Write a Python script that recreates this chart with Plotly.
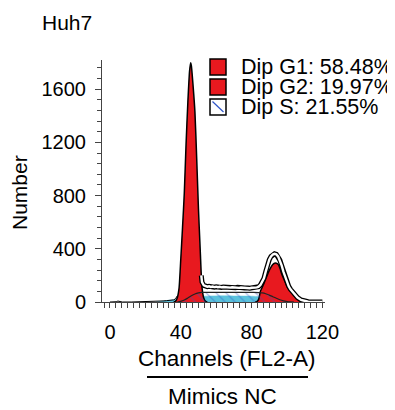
import plotly.graph_objects as go

# ---------------- data ----------------
# G1 peak (red)
g1_ch = [36, 37, 38, 39, 40, 41, 42, 43, 44, 45, 45.6, 46, 47, 48, 49, 50, 51, 52, 53, 54, 55]
g1_cnt = [0, 5, 30, 100, 320, 560, 820, 1190, 1500, 1740, 1800, 1775, 1620, 1430, 1080, 700, 390, 110, 30, 5, 0]

# G2 peak (red)
g2_ch = [82, 83, 84, 85, 86, 87, 88, 89, 90, 91, 92, 93, 94, 95, 96, 97, 98, 99, 100, 101, 102, 104, 106, 108, 110]
g2_cnt = [0, 3, 20, 80, 110, 140, 175, 205, 238, 262, 282, 291, 292, 283, 255, 213, 180, 148, 118, 96, 82, 50, 25, 8, 0]

# S phase (hatched)
s_ch = [38, 40, 42, 44, 46, 48, 50, 52, 56, 60, 70, 80, 84, 86, 88, 90, 92, 94, 96, 98, 100, 102, 104]
s_cnt = [0, 5, 15, 30, 47, 60, 68, 72, 73, 73, 72, 72, 71, 68, 62, 52, 40, 28, 17, 9, 4, 1, 0]

# background / debris (teal)
d_ch = [26, 30, 34, 38, 42, 46, 50, 54, 60, 70, 80, 84, 88, 92, 96, 100, 104]
d_cnt = [0, 8, 14, 18, 22, 30, 38, 44, 46, 45, 44, 40, 30, 18, 8, 2, 0]

# histogram data, low channels (thin line)
lo_ch = [0, 2, 3.5, 4.5, 5.5, 7, 12, 18, 22, 25, 28, 30, 32, 34, 36, 37, 38]
lo_cnt = [0, 0, 2, 7, 2, 0, 0, 1, 2, 4, 7, 8, 10, 12, 16, 24, 45]

# histogram data, S plateau and G2 (outlined line)
hi_ch = [51.6, 52, 53, 54, 55, 56, 57, 58, 59, 60, 61, 62, 63, 64, 65, 66, 67, 68, 69, 70,
         71, 72, 73, 74, 75, 76, 77, 78, 79, 80, 81, 82, 83, 84, 85, 86, 87, 88, 89, 90,
         91, 92, 93, 94, 95, 96, 97, 98, 99, 100, 101, 102, 104, 106, 108, 110, 112, 114, 120]
hi_cnt = [200, 150, 125, 118, 115, 118, 113, 116, 112, 115, 111, 114, 110, 113, 111, 109, 112, 108, 111, 109,
          107, 110, 106, 109, 107, 105, 108, 106, 104, 107, 105, 108, 110, 115, 128, 148, 178, 228, 280, 318,
          343, 357, 362, 358, 343, 315, 275, 228, 185, 148, 118, 95, 60, 33, 15, 6, 2, 0, 0]

peak_means = [45.6, 93.2]

legend_labels = ["Dip G1: 58.48%", "Dip G2: 19.97%", "Dip S: 21.55%"]
x_ticks = [0, 40, 80, 120]

RED = "#E8191F"
TEAL = "#5BC2DC"
HATCH = "#2F55C8"
FONT = "Liberation Sans, Arial, sans-serif"

# the page body adds an 8 px margin, so the figure is drawn 8 px smaller / shifted
OFF = 8
W, H = 395 - OFF, 410 - OFF

fig = go.Figure()

fig.add_trace(go.Scatter(x=d_ch, y=d_cnt, mode="lines", line=dict(color=TEAL, width=0.5, shape="spline"),
                         fill="tozeroy", fillcolor=TEAL, showlegend=False))
fig.add_trace(go.Scatter(x=g1_ch, y=g1_cnt, mode="lines", line=dict(color="black", width=1.5, shape="spline", smoothing=0.6),
                         fill="tozeroy", fillcolor=RED, showlegend=False))
fig.add_trace(go.Scatter(x=g2_ch, y=g2_cnt, mode="lines", line=dict(color="black", width=1.5, shape="spline", smoothing=0.8),
                         fill="tozeroy", fillcolor=RED, showlegend=False))
fig.add_trace(go.Scatter(x=s_ch, y=s_cnt, mode="lines", line=dict(color="#222", width=1.2, shape="spline"),
                         fill="tozeroy", fillcolor="rgba(0,0,0,0)",
                         fillpattern=dict(shape="\\", fgcolor=HATCH, bgcolor="rgba(0,0,0,0)", size=7, solidity=0.15),
                         showlegend=False))
fig.add_trace(go.Scatter(x=lo_ch, y=lo_cnt, mode="lines", line=dict(color="black", width=1), showlegend=False))
fig.add_trace(go.Scatter(x=hi_ch, y=hi_cnt, mode="lines", line=dict(color="black", width=5), showlegend=False))
fig.add_trace(go.Scatter(x=hi_ch, y=hi_cnt, mode="lines", line=dict(color="white", width=2.4), showlegend=False))
fig.add_trace(go.Scatter(x=peak_means, y=[-52] * len(peak_means), mode="markers",
                         marker=dict(symbol="triangle-up", size=9, color="black"),
                         cliponaxis=False, showlegend=False))

# plot-area geometry in reference-screen pixels
L, R, T, B = 102, 325, 60, 302
def fx(px):
    return (px - L) / (R - L)
def fy(py):
    return (B - py) / (B - T)

shapes = []
annotations = []
box_tops = [59, 79, 99]
for i, (lab, top) in enumerate(zip(legend_labels, box_tops)):
    fill = RED if i < 2 else "white"
    shapes.append(dict(type="rect", xref="paper", yref="paper", x0=fx(210), x1=fx(226),
                       y0=fy(top + 16), y1=fy(top), fillcolor=fill, line=dict(color="black", width=1.5)))
    annotations.append(dict(text=lab, xref="paper", yref="paper", x=fx(239), y=fy(top + 8),
                            xanchor="left", yanchor="middle", showarrow=False,
                            font=dict(size=21.5, color="black", family=FONT)))
shapes.append(dict(type="line", xref="paper", yref="paper", x0=fx(212.5), y0=fy(101.5), x1=fx(223.5), y1=fy(112),
                   line=dict(color=HATCH, width=1.2)))
shapes.append(dict(type="line", xref="paper", yref="paper", x0=fx(147), y0=fy(377), x1=fx(308), y1=fy(377),
                   line=dict(color="black", width=2)))

annotations += [
    dict(text="Huh7", xref="paper", yref="paper", x=fx(67), y=fy(22), xanchor="center", yanchor="middle",
         showarrow=False, font=dict(size=21, color="black", family=FONT)),
    dict(text="Number", xref="paper", yref="paper", x=fx(19), y=fy(193), xanchor="center", yanchor="middle",
         textangle=-90, showarrow=False, font=dict(size=21, color="black", family=FONT)),
    dict(text="Channels (FL2-A)", xref="paper", yref="paper", x=fx(227), y=fy(358), xanchor="center",
         yanchor="middle", showarrow=False, font=dict(size=22.5, color="black", family=FONT)),
    dict(text="Mimics NC", xref="paper", yref="paper", x=fx(222), y=fy(396), xanchor="center",
         yanchor="middle", showarrow=False, font=dict(size=22.5, color="black", family=FONT)),
]

AX = "#444"
fig.update_layout(
    width=W, height=H,
    margin=dict(l=L - OFF, r=395 - R, t=T - OFF, b=410 - B, pad=0),
    paper_bgcolor="white", plot_bgcolor="white",
    font=dict(family=FONT, color="black"),
    shapes=shapes, annotations=annotations,
    xaxis=dict(range=[-4.5, 121.5], showgrid=False, zeroline=False, showline=True, linecolor=AX, linewidth=1,
               tickmode="array", tickvals=x_ticks, ticks="outside", ticklen=5, tickcolor=AX, tickwidth=1,
               tickfont=dict(size=20, color="black"), ticklabelstandoff=7,
               minor=dict(tickmode="linear", tick0=0, dtick=10 / 3, ticks="outside", ticklen=5, tickcolor=AX)),
    yaxis=dict(range=[0, 1820], showgrid=False, zeroline=False, showline=True, linecolor=AX, linewidth=1,
               tickmode="linear", tick0=0, dtick=400, ticks="outside", ticklen=6, tickcolor=AX, tickwidth=1,
               tickfont=dict(size=20, color="black"), ticklabelstandoff=5,
               minor=dict(tickmode="linear", tick0=0, dtick=80, ticks="outside", ticklen=4, tickcolor=AX)),
)

fig.write_html("out.html")
